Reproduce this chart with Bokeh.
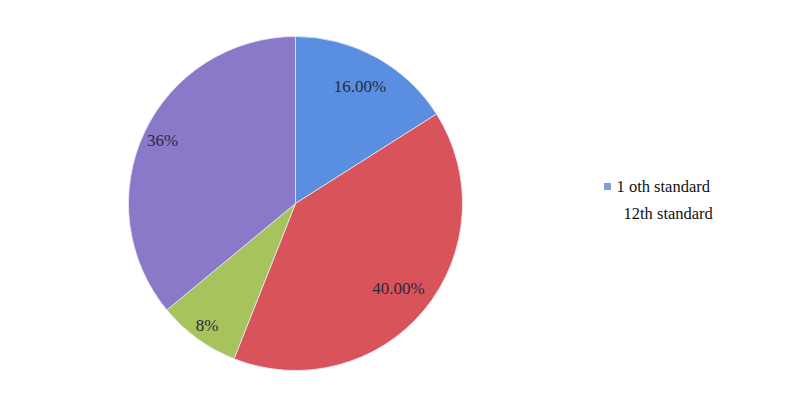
import math
from bokeh.plotting import figure
from bokeh.models import ColumnDataSource, Range1d
from bokeh.core.properties import value
from bokeh.embed import file_html
from bokeh.resources import INLINE

# ---- data ----
shares = [16.0, 40.0, 8.0, 36.0]
slice_labels = ["16.00%", "40.00%", "8%", "36%"]
slice_colors = ["#5a8ee0", "#d9535a", "#a6c35d", "#8a78c8"]
legend_labels = ["1 oth standard", "12th standard"]
legend_colors = ["#7d9ee0", None]

# ---- layout ----
W, H = 775, 399
cx, cy, R = 295, 196, 167
label_r = [0.80, 0.80, 0.90, 0.88]
FONT = value("Liberation Serif")

total = sum(shares)
starts, ends, lx, ly = [], [], [], []
acc = 0.0
for i, s in enumerate(shares):
    a0 = math.pi / 2 - 2 * math.pi * acc / total
    acc += s
    a1 = math.pi / 2 - 2 * math.pi * acc / total
    starts.append(a1)
    ends.append(a0)
    mid = (a0 + a1) / 2
    lx.append(cx + label_r[i] * R * math.cos(mid))
    ly.append(cy + label_r[i] * R * math.sin(mid))

src = ColumnDataSource(dict(x=[cx] * 4, y=[cy] * 4, start=starts, end=ends,
                            color=slice_colors, lx=lx, ly=ly, label=slice_labels))

p = figure(width=W, height=H, output_backend="svg", toolbar_location=None,
           x_range=Range1d(0, W), y_range=Range1d(0, H), min_border=0)
p.axis.visible = False
p.grid.visible = False
p.outline_line_color = None
p.background_fill_color = "white"
p.border_fill_color = "white"

p.wedge(x="x", y="y", radius=R, start_angle="start", end_angle="end",
        fill_color="color", line_color="#e8e8f0", line_width=0.8, source=src)
p.text(x="lx", y="ly", text="label", source=src, text_font=FONT,
       text_font_size="17px", text_color="#2a2a3c", text_align="center",
       text_baseline="middle")

# legend
leg_x = [607, 607]
leg_y = [H - 186, H - 213]
mk = [(leg_x[i], leg_y[i], c) for i, c in enumerate(legend_colors) if c]
p.scatter(x=[m[0] for m in mk], y=[m[1] for m in mk], color=[m[2] for m in mk],
          marker="square", size=7, line_color=None)
p.text(x=[616, 623], y=leg_y, text=legend_labels, text_font=FONT,
       text_font_size="16.5px", text_color="#111111", text_baseline="middle")

open("out.html", "w").write(file_html(p, INLINE))
